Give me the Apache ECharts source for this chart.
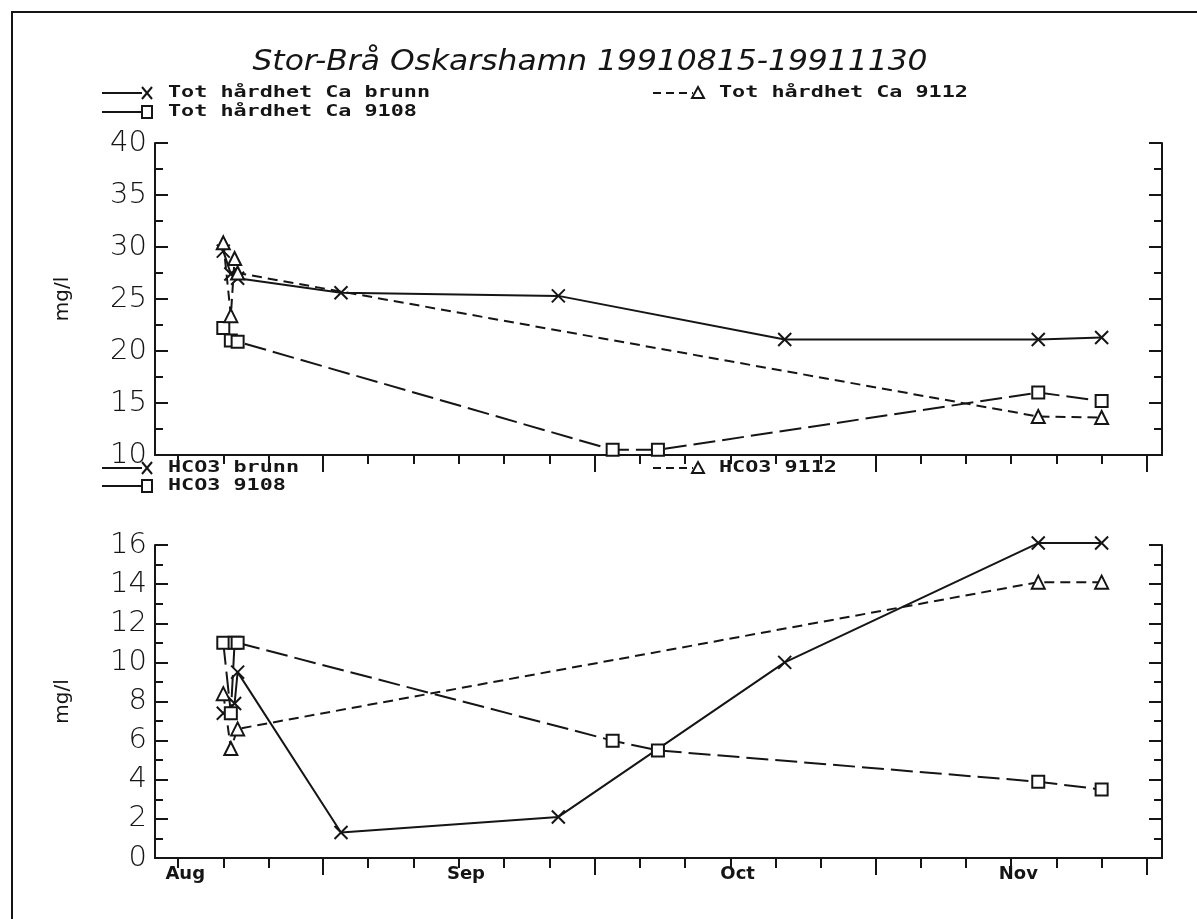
<!DOCTYPE html>
<html>
<head>
<meta charset="utf-8">
<script src="https://cdn.jsdelivr.net/npm/echarts@6/dist/echarts.min.js"></script>
<style>
  html, body { margin: 0; padding: 0; background: #fff; }
  #chart { width: 1197px; height: 919px; }
</style>
</head>
<body>
<div id="chart"></div>
<script>
// ---- Text ----
const chartTitle = 'Stor-Brå Oskarshamn 19910815-19911130';
const yName = 'mg/l';
const caNames = ['Tot hårdhet Ca brunn', 'Tot hårdhet Ca 9108', 'Tot hårdhet Ca 9112'];
const hco3Names = ['HCO3 brunn', 'HCO3 9108', 'HCO3 9112'];

// ---- Time axis ----
const monthLabels = ['Aug', 'Sep', 'Oct', 'Nov'];
const monthStarts = ['1991-08-01', '1991-09-01', '1991-10-01', '1991-11-01'];
const shortTickDates = [
  '1991-08-01', '1991-08-06', '1991-08-11', '1991-08-22', '1991-08-27',
  '1991-09-01', '1991-09-06', '1991-09-11', '1991-09-21', '1991-09-26',
  '1991-10-01', '1991-10-06', '1991-10-11', '1991-10-22', '1991-10-27',
  '1991-11-01', '1991-11-06', '1991-11-11'
];
const longTickDates = ['1991-08-17', '1991-09-16', '1991-10-17', '1991-11-16'];
const axisStart = '1991-07-29 11:00';
const axisEnd = '1991-11-17 16:00';

// ---- Total hardness, Ca (mg/l) ----
const caBrunnDates = ['1991-08-06 00:00', '1991-08-06 20:00', '1991-08-07 14:00', '1991-08-19', '1991-09-12', '1991-10-07', '1991-11-04', '1991-11-11'];
const caBrunnValues = [29.6, 27.4, 27.0, 25.6, 25.3, 21.1, 21.1, 21.3];
const ca9108Dates = ['1991-08-06 00:00', '1991-08-06 20:00', '1991-08-07 14:00', '1991-09-18', '1991-09-23', '1991-11-04', '1991-11-11'];
const ca9108Values = [22.2, 21.0, 20.9, 10.5, 10.5, 16.0, 15.2];
const ca9112Dates = ['1991-08-06 00:00', '1991-08-06 20:00', '1991-08-07 06:00', '1991-08-07 14:00', '1991-11-04', '1991-11-11'];
const ca9112Values = [30.4, 23.4, 28.9, 27.5, 13.7, 13.6];

// ---- HCO3 (mg/l) ----
const hco3BrunnDates = ['1991-08-06 00:00', '1991-08-07 06:00', '1991-08-07 14:00', '1991-08-19', '1991-09-12', '1991-10-07', '1991-11-04', '1991-11-11'];
const hco3BrunnValues = [7.4, 7.9, 9.5, 1.3, 2.1, 10.0, 16.1, 16.1];
const hco39108Dates = ['1991-08-06 00:00', '1991-08-06 20:00', '1991-08-07 06:00', '1991-08-07 14:00', '1991-09-18', '1991-09-23', '1991-11-04', '1991-11-11'];
const hco39108Values = [11.0, 7.4, 11.0, 11.0, 6.0, 5.5, 3.9, 3.5];
const hco39112Dates = ['1991-08-06 00:00', '1991-08-06 20:00', '1991-08-07 14:00', '1991-11-04', '1991-11-11'];
const hco39112Values = [8.4, 5.6, 6.6, 14.1, 14.1];

// days since 1 Jan 1991 (UTC), fractional for sampling times
const T0 = Date.UTC(1991, 0, 1);
function dayNum(s) {
  const [date, time] = s.split(' ');
  const [y, m, d] = date.split('-').map(Number);
  let h = 0, mi = 0;
  if (time) [h, mi] = time.split(':').map(Number);
  return (Date.UTC(y, m - 1, d, h, mi) - T0) / 864e5;
}
const zip = (dates, vals) => dates.map((d, i) => [dayNum(d), vals[i]]);

const INK = '#151515';
const xMin = dayNum(axisStart), xMax = dayNum(axisEnd);
const shortTicks = shortTickDates.map(dayNum);
const longTicks = longTickDates.map(dayNum);
const labelDays = monthStarts.map(s => dayNum(s) + 0.8);

const crossPath = 'path://M0,0L10,10M10,0L0,10';
const styles = {
  solid:  { type: 'solid', symbol: crossPath, size: 13 },
  long:   { type: [22, 7], symbol: 'rect', size: 12 },
  short:  { type: [10, 6], symbol: 'triangle', size: 13 }
};

function series(name, data, kind, xi, yi) {
  const s = styles[kind];
  return {
    type: 'line', name, data, xAxisIndex: xi, yAxisIndex: yi,
    showAllSymbol: true, symbol: s.symbol, symbolSize: s.size, clip: false,
    lineStyle: { color: INK, width: 2, type: s.type },
    itemStyle: { color: kind === 'solid' ? 'none' : '#fff', borderColor: INK, borderWidth: 2 },
    animation: false, silent: true
  };
}

function xAxisDef(grid, ticks, len, withLabels) {
  return {
    type: 'value', gridIndex: grid, min: xMin, max: xMax, position: 'bottom',
    axisLine: { show: true, onZero: false, lineStyle: { color: INK, width: 2 } },
    axisTick: { show: true, customValues: ticks, length: len, lineStyle: { color: INK, width: 2 } },
    axisLabel: withLabels ? {
      show: true, customValues: labelDays, margin: 7,
      fontFamily: 'DejaVu Sans', fontWeight: 'bold', fontSize: 18, color: INK,
      formatter: v => {
        const i = labelDays.findIndex(d => Math.abs(d - v) < 0.01);
        return i >= 0 ? monthLabels[i] : '';
      }
    } : { show: false },
    splitLine: { show: false }
  };
}

function yAxisDef(grid, min, max, interval, side) {
  const left = side === 'left';
  return {
    type: 'value', gridIndex: grid, position: side, min, max, interval,
    name: left ? yName : '', nameLocation: 'middle', nameRotate: 90, nameGap: 82,
    nameTextStyle: { fontFamily: 'DejaVu Sans', fontSize: 20, color: INK },
    axisLine: { show: true, lineStyle: { color: INK, width: 2 } },
    axisTick: { show: true, inside: true, length: 13, lineStyle: { color: INK, width: 2 } },
    minorTick: { show: true, splitNumber: 2, length: 8, lineStyle: { color: INK, width: 2 } },
    axisLabel: left ? { show: true, margin: 8, fontFamily: 'DejaVu Sans', fontWeight: 200, fontSize: 29, color: INK } : { show: false },
    splitLine: { show: false }, minorSplitLine: { show: false }
  };
}

// legend sample: line, marker, then scaled text
function legendItem(x, y, name, kind) {
  const lineStyle = { stroke: INK, lineWidth: 2 };
  if (kind === 'short') lineStyle.lineDash = [8, 5];
  const mx = x + 45;
  const els = [{ type: 'line', shape: { x1: x, y1: y, x2: x + 40, y2: y }, style: lineStyle }];
  if (kind === 'solid') {
    els.push({ type: 'polyline', shape: { points: [[mx - 5, y - 6], [mx + 5, y + 6]] }, style: { stroke: INK, lineWidth: 2, fill: null } });
    els.push({ type: 'polyline', shape: { points: [[mx + 5, y - 6], [mx - 5, y + 6]] }, style: { stroke: INK, lineWidth: 2, fill: null } });
  } else if (kind === 'long') {
    els.push({ type: 'rect', shape: { x: mx - 5, y: y - 6, width: 10, height: 12 }, style: { stroke: INK, lineWidth: 2, fill: '#fff' } });
  } else {
    els.push({ type: 'polygon', shape: { points: [[mx, y - 6], [mx + 6, y + 5], [mx - 6, y + 5]] }, style: { stroke: INK, lineWidth: 2, fill: '#fff' } });
  }
  els.push({
    type: 'text', x: x + 66, y: y, scaleX: 1.36,
    style: { text: name, fontFamily: 'DejaVu Sans Mono', fontWeight: 'bold', fontSize: 16, fill: INK, align: 'left', verticalAlign: 'middle' }
  });
  return els;
}

const graphics = [
  { type: 'rect', shape: { x: 12, y: 12, width: 1220, height: 940 }, style: { fill: 'none', stroke: INK, lineWidth: 2 }, silent: true },
  { type: 'text', x: 590, y: 63, scaleX: 1.12,
    style: { text: chartTitle, fontFamily: 'DejaVu Sans', fontStyle: 'italic', fontWeight: 200, fontSize: 28, fill: INK, align: 'center', verticalAlign: 'middle' } },
  ...legendItem(102, 93, caNames[0], 'solid'),
  ...legendItem(102, 112, caNames[1], 'long'),
  ...legendItem(653, 93, caNames[2], 'short'),
  ...legendItem(102, 468, hco3Names[0], 'solid'),
  ...legendItem(102, 486, hco3Names[1], 'long'),
  ...legendItem(653, 468, hco3Names[2], 'short')
];

const option = {
  backgroundColor: '#fff',
  animation: false,
  grid: [
    { left: 155, right: 35, top: 143, height: 312 },
    { left: 155, right: 35, top: 545, height: 313 }
  ],
  xAxis: [
    xAxisDef(0, shortTicks, 9, false),
    xAxisDef(0, longTicks, 17, false),
    xAxisDef(1, shortTicks, 10, true),
    xAxisDef(1, longTicks, 17, false)
  ],
  yAxis: [
    yAxisDef(0, 10, 40, 5, 'left'),
    yAxisDef(0, 10, 40, 5, 'right'),
    yAxisDef(1, 0, 16, 2, 'left'),
    yAxisDef(1, 0, 16, 2, 'right')
  ],
  series: [
    series(caNames[0], zip(caBrunnDates, caBrunnValues), 'solid', 0, 0),
    series(caNames[1], zip(ca9108Dates, ca9108Values), 'long', 0, 0),
    series(caNames[2], zip(ca9112Dates, ca9112Values), 'short', 0, 0),
    series(hco3Names[0], zip(hco3BrunnDates, hco3BrunnValues), 'solid', 2, 2),
    series(hco3Names[1], zip(hco39108Dates, hco39108Values), 'long', 2, 2),
    series(hco3Names[2], zip(hco39112Dates, hco39112Values), 'short', 2, 2)
  ],
  graphic: graphics
};

const chart = echarts.init(document.getElementById('chart'));
chart.setOption(option);
</script>
</body>
</html>
